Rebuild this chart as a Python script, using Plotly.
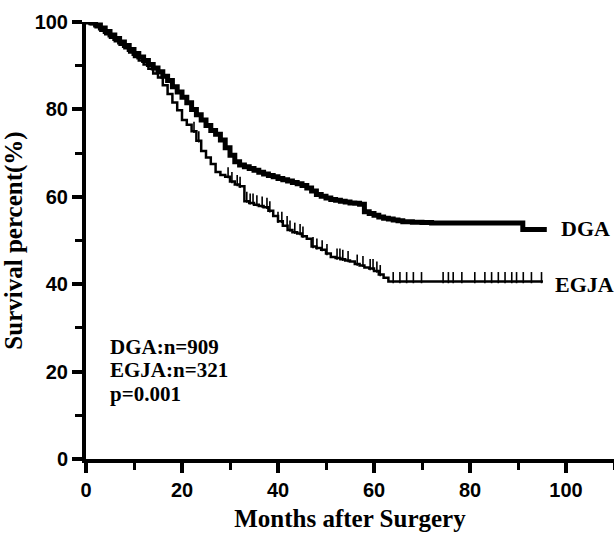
import numpy as np
import plotly.graph_objects as go

# ---- data ----
dga_t = [0, 1, 2, 3, 4, 5, 6, 7, 8, 9, 10, 11, 12, 13, 14, 15, 16, 17, 18, 19, 20,
         21, 22, 23, 24, 25, 26, 27, 28, 29, 30, 31, 32, 33, 34, 35, 36, 37, 38, 39, 40,
         41, 42, 43, 44, 45, 46, 47, 48, 49, 50, 51, 52, 53, 54, 55, 56, 57, 58, 59, 60,
         61, 62, 63, 64, 65, 66, 68, 70, 72, 91, 96]
dga_s = [100, 99.8, 99.3, 98.6, 97.8, 97.0, 96.2, 95.4, 94.6, 93.7, 92.8, 92.0, 91.2, 90.3,
         89.5, 88.6, 87.6, 86.6, 85.2, 84.0, 82.8, 81.5, 80.0, 78.8, 77.6, 76.3, 75.2, 74.3,
         73.0, 71.2, 69.5, 68.0, 67.3, 66.9, 66.5, 66.1, 65.6, 65.2, 64.9, 64.6, 64.2, 63.9,
         63.6, 63.3, 63.0, 62.6, 62.0, 61.3, 60.5, 60.1, 59.7, 59.4, 59.2, 59.0, 58.8, 58.6,
         58.5, 58.3, 56.6, 56.2, 55.8, 55.4, 55.1, 54.9, 54.7, 54.5, 54.3, 54.2, 54.1, 54.0,
         52.5, 52.5]

egja_t = [0, 1, 2, 3, 4, 5, 6, 7, 8, 9, 10, 11, 12, 13, 14, 15, 16, 17, 18, 19, 20,
          21, 22, 23, 24, 25, 26, 27, 28, 29, 30, 31, 32, 33, 34, 35, 36, 37, 38, 39, 40,
          41, 42, 43, 44, 45, 46, 47, 48, 49, 50, 51, 52, 53, 54, 55, 56, 57, 58, 59, 60,
          61, 62, 63, 95.2]
egja_s = [100, 99.5, 98.8, 98.0, 97.2, 96.4, 95.6, 94.8, 94.0, 93.0, 92.0, 91.2, 90.3, 89.3,
          88.2, 87.3, 85.5, 83.5, 81.6, 79.8, 77.6, 76.5, 75.0, 72.8, 70.5, 69.0, 67.5, 65.7,
          65.0, 64.6, 63.5, 62.8, 62.4, 59.0, 58.6, 58.2, 57.9, 57.6, 56.8, 55.6, 54.4, 53.4,
          52.4, 51.9, 51.6, 51.0, 50.4, 48.6, 48.3, 47.9, 47.0, 46.2, 46.0, 45.7, 45.4, 45.2,
          44.6, 44.3, 43.8, 43.6, 43.0, 42.2, 41.5, 40.6, 40.6]

egja_censor = [22.5, 23.5, 29.6, 30.4, 31.5, 32.1, 33.5, 34.2, 34.8, 35.6, 36.7, 37.7, 38.3,
               40.0, 40.8, 41.9, 42.5, 43.5, 44.6, 45.2, 47.3, 48.1, 49.2, 50.2, 52.3, 52.9,
               53.5, 54.6, 56.5, 57.7, 59.2, 59.8, 60.6, 61.3, 64.0, 65.4, 66.8, 68.2, 69.9,
               74.4, 75.5, 76.5, 78.3, 81.0, 83.1, 84.5, 85.9, 87.3, 88.7, 89.7, 91.1, 92.8,
               94.9]

x_ticks = [0, 20, 40, 60, 80, 100]
y_ticks = [0, 20, 40, 60, 80, 100]
group_labels = ["DGA", "EGJA"]
stats_lines = ["DGA:n=909", "EGJA:n=321", "p=0.001"]


def step_value(ts, ss, x):
    idx = np.searchsorted(np.array(ts), x, side="right") - 1
    return np.array(ss)[idx]


serif = "Liberation Serif, Times New Roman, serif"
sans = "Liberation Sans, Arial, sans-serif"

fig = go.Figure()
fig.add_trace(go.Scatter(x=dga_t, y=dga_s, mode="lines", line=dict(color="black", width=5, shape="hv"),
                         cliponaxis=False, showlegend=False))
fig.add_trace(go.Scatter(x=egja_t, y=egja_s, mode="lines", line=dict(color="black", width=2.5, shape="hv"),
                         cliponaxis=False, showlegend=False))
cy = step_value(egja_t, egja_s, egja_censor) + 0.9
fig.add_trace(go.Scatter(x=egja_censor, y=cy, mode="markers",
                         marker=dict(symbol="line-ns", size=8, line=dict(color="black", width=1.6)),
                         cliponaxis=False, showlegend=False))

lab_font = dict(family=serif, size=22, color="black")
fig.add_annotation(x=98.5, y=step_value(dga_t, dga_s, [95])[0] + 0.3, text="<b>%s</b>" % group_labels[0],
                   showarrow=False, xanchor="left", yanchor="middle", font=lab_font)
fig.add_annotation(x=97.2, y=step_value(egja_t, egja_s, [95])[0] - 0.6, text="<b>%s</b>" % group_labels[1],
                   showarrow=False, xanchor="left", yanchor="middle", font=lab_font)
for i, line in enumerate(stats_lines):
    fig.add_annotation(x=4.6, y=25.7 - i * 5.4, text="<b>%s</b>" % line, showarrow=False, xanchor="left",
                       yanchor="middle", font=dict(family=serif, size=21, color="black"))

axis_common = dict(showgrid=False, zeroline=False, showline=True, linecolor="black", linewidth=4,
                   ticks="outside", ticklen=10, tickwidth=4, tickcolor="black",
                   tickfont=dict(family=sans, size=20, color="black"))

fig.update_xaxes(range=[0, 110], tickvals=x_ticks, ticktext=["<b>%d</b>" % v for v in x_ticks],
                 minor=dict(tickvals=[10, 30, 50, 70, 90, 110], ticklen=7, tickwidth=3, tickcolor="black", ticks="outside"),
                 title=dict(text="<b>Months after Surgery</b>", font=dict(family=serif, size=25, color="black"),
                            standoff=10),
                 **axis_common)
fig.update_yaxes(range=[0, 100], tickvals=y_ticks, ticktext=["<b>%d</b>" % v for v in y_ticks],
                 minor=dict(tickvals=[10, 30, 50, 70, 90], ticklen=7, tickwidth=3, tickcolor="black", ticks="outside"),
                 title=dict(text="<b>Survival percent(%)</b>", font=dict(family=serif, size=25, color="black"),
                            standoff=8),
                 **axis_common)

fig.update_layout(width=614, height=533, margin=dict(l=86, r=0, t=22, b=74),
                  plot_bgcolor="white", paper_bgcolor="white")
fig.write_html("out.html")
